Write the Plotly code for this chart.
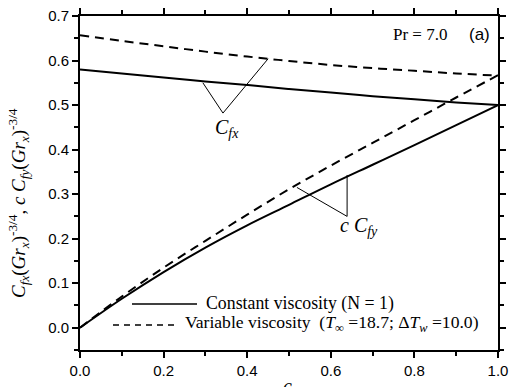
import plotly.graph_objects as go

# Data
c_vals = [0.0, 0.1, 0.2, 0.3, 0.4, 0.5, 0.6, 0.7, 0.8, 0.9, 1.0]
cfx_const = [0.580, 0.571, 0.562, 0.553, 0.545, 0.536, 0.528, 0.520, 0.513, 0.506, 0.500]
cfx_var = [0.657, 0.644, 0.632, 0.620, 0.609, 0.599, 0.590, 0.583, 0.577, 0.571, 0.566]
ccfy_const = [0.0, 0.065, 0.125, 0.180, 0.230, 0.276, 0.322, 0.366, 0.410, 0.455, 0.500]
ccfy_var = [0.0, 0.070, 0.135, 0.195, 0.254, 0.311, 0.364, 0.415, 0.466, 0.517, 0.567]

x_ticks = [0.0, 0.2, 0.4, 0.6, 0.8, 1.0]
y_ticks = [0.0, 0.1, 0.2, 0.3, 0.4, 0.5, 0.6, 0.7]

SERIF = "Liberation Serif, Times New Roman, serif"
SANS = "Liberation Sans, Arial, sans-serif"

fig = go.Figure()
line_solid = dict(color="black", width=2, dash="solid", shape="spline")
line_dash = dict(color="black", width=2, dash="9px,6px", shape="spline")

fig.add_trace(go.Scatter(x=c_vals, y=cfx_const, mode="lines", line=line_solid, showlegend=False))
fig.add_trace(go.Scatter(x=c_vals, y=ccfy_const, mode="lines", line=line_solid, showlegend=False))
fig.add_trace(go.Scatter(x=c_vals, y=cfx_var, mode="lines", line=line_dash, showlegend=False))
fig.add_trace(go.Scatter(x=c_vals, y=ccfy_var, mode="lines", line=line_dash, showlegend=False))

L, R, T, B = 80, 498, 16, 350

def px2paper_x(px):
    return (px - L) / (R - L)

def px2paper_y(py):
    return (B - py) / (B - T)

shapes = []
# Pointer lines for the curve labels
for (x0, y0, x1, y1) in [(0.342, 0.482, 0.294, 0.550), (0.342, 0.482, 0.450, 0.604),
                         (0.639, 0.250, 0.639, 0.343), (0.639, 0.250, 0.519, 0.315)]:
    shapes.append(dict(type="line", xref="x", yref="y", x0=x0, y0=y0, x1=x1, y1=y1,
                       line=dict(color="black", width=1)))

# Legend samples (paper coordinates)
shapes.append(dict(type="line", xref="paper", yref="paper",
                   x0=px2paper_x(132), x1=px2paper_x(197), y0=px2paper_y(304), y1=px2paper_y(304),
                   line=dict(color="black", width=1.5)))
shapes.append(dict(type="line", xref="paper", yref="paper",
                   x0=px2paper_x(113), x1=px2paper_x(178), y0=px2paper_y(325), y1=px2paper_y(325),
                   line=dict(color="black", width=1.5, dash="6px,5px")))

ytitle = ("<i>C</i><sub><i>fx</i></sub>(<i>Gr</i><sub><i>x</i></sub>)<sup>-3/4</sup>, "
          "<i>c C</i><sub><i>fy</i></sub>(<i>Gr</i><sub><i>x</i></sub>)<sup>-3/4</sup>")

annotations = [
    dict(x=0.352, y=0.448, xref="x", yref="y", text="<i>C</i><sub><i>fx</i></sub>",
         xanchor="center", yanchor="middle",
         showarrow=False, font=dict(family=SERIF, size=20, color="black")),
    dict(x=0.668, y=0.228, xref="x", yref="y", text="<i>c C</i><sub><i>fy</i></sub>",
         xanchor="center", yanchor="middle",
         showarrow=False, font=dict(family=SERIF, size=20, color="black")),
    dict(x=px2paper_x(449), y=px2paper_y(35), xref="paper", yref="paper", text="Pr = 7.0",
         xanchor="right", yanchor="middle", showarrow=False,
         font=dict(family=SERIF, size=17, color="black")),
    dict(x=px2paper_x(479), y=px2paper_y(35), xref="paper", yref="paper", text="(a)",
         xanchor="center", yanchor="middle", showarrow=False,
         font=dict(family=SANS, size=17, color="black")),
    dict(x=px2paper_x(204), y=px2paper_y(303), xref="paper", yref="paper",
         text="Constant viscosity (N = 1)", xanchor="left", yanchor="middle", showarrow=False,
         font=dict(family=SERIF, size=17.8, color="black")),
    dict(x=px2paper_x(183), y=px2paper_y(323), xref="paper", yref="paper",
         text="Variable viscosity  (<i>T</i><sub>∞</sub> =18.7; Δ<i>T</i><sub><i>w</i></sub> =10.0)",
         xanchor="left", yanchor="middle", showarrow=False,
         font=dict(family=SERIF, size=17.6, color="black")),
    dict(x=px2paper_x(18), y=px2paper_y(203), xref="paper", yref="paper", text=ytitle,
         textangle=-90, xanchor="center", yanchor="middle", showarrow=False,
         font=dict(family=SERIF, size=19, color="black")),
    dict(x=px2paper_x(287), y=px2paper_y(386), xref="paper", yref="paper", text="<i>c</i>",
         xanchor="center", yanchor="middle", showarrow=False,
         font=dict(family=SERIF, size=20, color="black")),
]

fig.update_layout(
    width=509, height=387,
    margin=dict(l=L, r=509 - R, t=T, b=387 - B, autoexpand=False),
    paper_bgcolor="white", plot_bgcolor="white",
    shapes=shapes, annotations=annotations,
    showlegend=False,
)
fig.update_xaxes(
    range=[0, 1], tickvals=x_ticks, ticktext=[f"{v:.1f}" for v in x_ticks],
    showgrid=False, zeroline=False, showline=True, linecolor="black", linewidth=2,
    mirror="ticks", ticks="outside", ticklen=6, tickwidth=1.5, tickcolor="black",
    minor=dict(dtick=0.1, ticks="outside", ticklen=4, tickwidth=1.5, tickcolor="black"),
    tickfont=dict(family=SANS, size=15, color="black"), automargin=False,
)
fig.update_yaxes(
    range=[-0.05, 0.7], tickvals=y_ticks, ticktext=[f"{v:.1f}" for v in y_ticks],
    showgrid=False, zeroline=False, showline=True, linecolor="black", linewidth=2,
    mirror="ticks", ticks="outside", ticklen=6, tickwidth=1.5, tickcolor="black",
    minor=dict(dtick=0.05, tick0=0, ticks="outside", ticklen=4, tickwidth=1.5, tickcolor="black"),
    tickfont=dict(family=SANS, size=15, color="black"), automargin=False,
)

fig.write_html("out.html", config={"displayModeBar": False},
               post_script="document.body.style.margin='0';")
